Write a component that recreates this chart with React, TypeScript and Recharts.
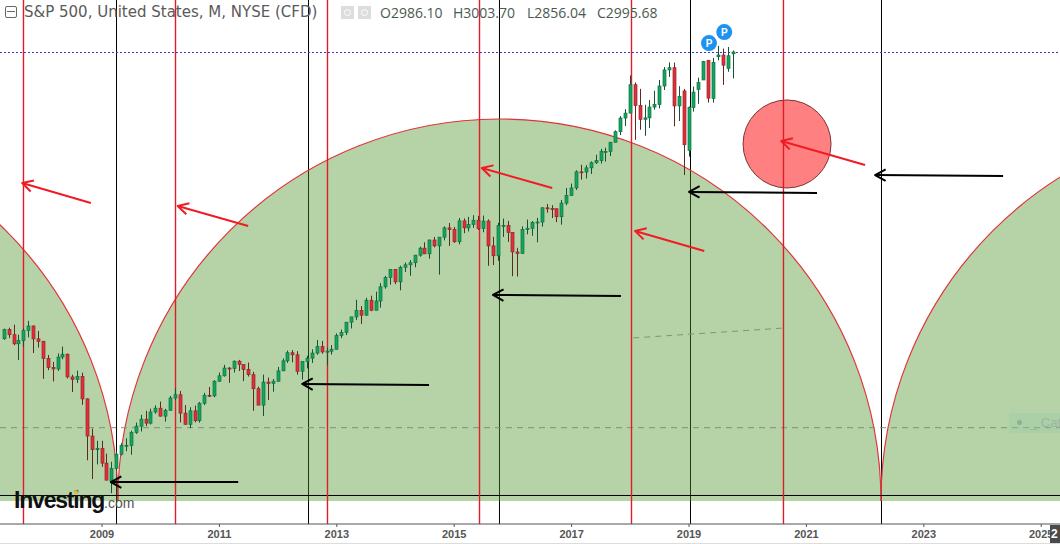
import { Bar, ComposedChart, ReferenceArea, ReferenceDot, ReferenceLine, XAxis, YAxis } from 'recharts';

// monthly candles, first one is May 2007, last one Oct 2019
const startYear = 2007 + 4 / 12;

const opens = [
  1482, 1530, 1503, 1455, 1473, 1526, 1549, 1481, 1468, 1378, 1330, 1322, 1385, 1400, 1280, 1267, 1282, 1164, 968, 896,
  903, 825, 729, 797, 872, 919, 919, 987, 1020, 1057, 1036, 1095,
  1115, 1073, 1104, 1169, 1186, 1089, 1030, 1101, 1049, 1141, 1183, 1180,
  1257, 1286, 1327, 1325, 1363, 1345, 1320, 1292, 1218, 1131, 1253, 1246,
  1257, 1312, 1365, 1408, 1397, 1310, 1362, 1379, 1406, 1440, 1412, 1416,
  1426, 1498, 1514, 1569, 1597, 1631, 1606, 1685, 1632, 1681, 1756, 1805,
  1848, 1782, 1859, 1872, 1883, 1923, 1960, 1930, 2003, 1972, 2018, 2067,
  2058, 1994, 2104, 2067, 2085, 2107, 2063, 2103, 1972, 1920, 2079, 2080,
  2043, 1940, 1932, 2059, 2065, 2096, 2098, 2173, 2170, 2168, 2126, 2198,
  2238, 2278, 2363, 2362, 2384, 2411, 2423, 2470, 2471, 2519, 2575, 2647,
  2673, 2823, 2713, 2640, 2648, 2705, 2718, 2816, 2901, 2913, 2711, 2790,
  2476, 2702, 2798, 2848, 2952, 2751, 2971, 2980, 2909, 2986.1,
];
const highs = [
  1535, 1540, 1556, 1503, 1538, 1576, 1552, 1523, 1471, 1396, 1359, 1404, 1440, 1404, 1292, 1313, 1303, 1167, 1007, 943,
  943, 875, 832, 888, 930, 956, 996, 1039, 1080, 1101, 1113, 1130,
  1150, 1112, 1180, 1220, 1206, 1131, 1120, 1129, 1148, 1196, 1227, 1263,
  1303, 1344, 1332, 1367, 1370, 1345, 1356, 1307, 1229, 1292, 1277, 1269,
  1333, 1378, 1419, 1422, 1416, 1363, 1392, 1426, 1475, 1470, 1434, 1448,
  1510, 1530, 1570, 1597, 1687, 1654, 1698, 1709, 1730, 1775, 1814, 1849,
  1850, 1867, 1884, 1897, 1924, 1968, 1991, 2005, 2019, 2019, 2075, 2093,
  2072, 2119, 2117, 2125, 2134, 2130, 2132, 2112, 2020, 2094, 2116, 2104,
  2043, 1962, 2075, 2111, 2103, 2120, 2177, 2193, 2187, 2169, 2214, 2278,
  2301, 2371, 2400, 2398, 2418, 2453, 2484, 2490, 2519, 2582, 2657, 2694,
  2872, 2835, 2801, 2717, 2742, 2791, 2848, 2916, 2941, 2940, 2815, 2800,
  2708, 2813, 2860, 2949, 2954, 2964, 3028, 3014, 3022, 3003.7,
];
const lows = [
  1476, 1485, 1447, 1370, 1439, 1489, 1406, 1435, 1270, 1316, 1256, 1312, 1373, 1272, 1200, 1248, 1133, 840, 741, 818,
  805, 735, 666, 783, 866, 888, 869, 979, 992, 1020, 1029, 1086,
  1071, 1044, 1101, 1157, 1040, 1028, 1010, 1040, 1039, 1131, 1174, 1173,
  1257, 1282, 1249, 1303, 1311, 1258, 1282, 1101, 1136, 1074, 1158, 1202,
  1257, 1312, 1354, 1357, 1292, 1266, 1325, 1354, 1397, 1403, 1343, 1398,
  1426, 1485, 1501, 1536, 1581, 1560, 1604, 1627, 1633, 1646, 1746, 1767,
  1770, 1737, 1834, 1814, 1859, 1915, 1930, 1904, 1964, 1820, 2001, 1972,
  1988, 1980, 2039, 2048, 2067, 2056, 2044, 1867, 1871, 1893, 2019, 1993,
  1812, 1810, 1932, 2033, 2025, 1991, 2074, 2147, 2119, 2097, 2084, 2187,
  2238, 2267, 2322, 2328, 2352, 2405, 2407, 2417, 2446, 2519, 2557, 2605,
  2673, 2532, 2585, 2553, 2594, 2691, 2698, 2795, 2864, 2603, 2631, 2346,
  2443, 2681, 2722, 2848, 2729, 2728, 2952, 2822, 2891, 2856.04,
];
const closes = [
  1530, 1503, 1455, 1473, 1526, 1549, 1481, 1468, 1378, 1330, 1322, 1385, 1400, 1280, 1267, 1282, 1164, 968, 896, 903,
  825, 735, 797, 872, 919, 919, 987, 1020, 1057, 1036, 1095, 1115,
  1073, 1104, 1169, 1186, 1089, 1030, 1101, 1049, 1141, 1183, 1180, 1257,
  1286, 1327, 1325, 1363, 1345, 1320, 1292, 1218, 1131, 1253, 1246, 1257,
  1312, 1365, 1408, 1397, 1310, 1362, 1379, 1406, 1440, 1412, 1416, 1426,
  1498, 1514, 1569, 1597, 1631, 1606, 1685, 1632, 1681, 1756, 1805, 1848,
  1782, 1859, 1872, 1883, 1923, 1960, 1930, 2003, 1972, 2018, 2067, 2058,
  1994, 2104, 2067, 2085, 2107, 2063, 2103, 1972, 1920, 2079, 2080, 2043,
  1940, 1932, 2059, 2065, 2096, 2098, 2173, 2170, 2168, 2126, 2198, 2238,
  2278, 2363, 2362, 2384, 2411, 2423, 2470, 2471, 2519, 2575, 2647, 2673,
  2823, 2713, 2640, 2648, 2705, 2718, 2816, 2901, 2913, 2711, 2760, 2506,
  2704, 2784, 2834, 2945, 2752, 2941, 2980, 2926, 2976, 2995.68,
];

const yearTicks = [2009, 2011, 2013, 2015, 2017, 2019, 2021, 2023, 2025];
const xDomain = [2007.262, 2025.32];
const yDomain = [503.5, 3270.24];

const redLines = [2007.662, 2010.252, 2012.841, 2015.431, 2018.02, 2020.609];
const blackLines = [2009.247, 2012.518, 2015.771, 2019.025, 2022.279];

const lastPrice = 2993;
const supportPrice = 654;
const midPrice = 1012;

// [left year, right year] of each half circle, they share the same top and base price
const arcSpans = [[1996.27, 2009.27], [2009.27, 2022.27], [2022.27, 2035.27]];
const arcBase = 625;
const arcTop = 2642;

// [tip year, tip price, tail year, tail price]
const redArrows = [
  [2007.64, 2304, 2008.81, 2198],
  [2010.29, 2183, 2011.49, 2077],
  [2015.47, 2383, 2016.67, 2278],
  [2018.08, 2051, 2019.26, 1945],
  [2020.57, 2526, 2022.0, 2399],
];
const blackArrows = [
  [2009.15, 725, 2011.32, 725],
  [2012.41, 1243, 2014.57, 1238],
  [2015.66, 1713, 2017.84, 1707],
  [2019.0, 2257, 2021.18, 2251],
  [2022.17, 2346, 2024.35, 2341],
];

const trendLine = [2018.05, 1486, 2020.6, 1538];
const circle = [2020.67, 2510];
const pivots = [[2019.34, 3043], [2019.6, 3101]];

const ohlcLabels = ['O2986.10', 'H3003.70', 'L2856.04', 'C2995.68'];

const candles = closes.map((close, i) => ({
  year: startYear + i / 12,
  open: opens[i],
  high: highs[i],
  low: lows[i],
  close,
  range: [lows[i], highs[i]],
}));

function Candle(props: any) {
  const { x, y, width, height, payload } = props;
  const { open, high, low, close } = payload;
  const cx = Math.round(x + width / 2) + 0.5;
  const k = height / (high - low);
  const top = y + (high - Math.max(open, close)) * k;
  const h = Math.max(Math.abs(open - close) * k, 1);
  const up = close >= open;
  return (
    <g>
      <line x1={cx} x2={cx} y1={y} y2={y + height} stroke={up ? '#14503a' : '#5c2a22'} strokeWidth={1} />
      <rect
        x={cx - 1.5}
        y={top}
        width={3}
        height={h}
        fill={up ? '#10a85e' : '#ea2c3a'}
        stroke={up ? '#14703f' : '#8a2a28'}
        strokeWidth={0.7}
      />
    </g>
  );
}

function HalfCircle(props: any) {
  const { x, y, width, height } = props;
  const rx = width / 2;
  const arc = `M${x},${y + height}A${rx},${height} 0 0 1 ${x + width},${y + height}`;
  return (
    <g>
      <path d={arc + 'Z'} fill="rgb(70,145,35)" fillOpacity={0.4} stroke="none" />
      <path d={arc} fill="none" stroke="#e0343c" strokeWidth={1.2} />
    </g>
  );
}

// draws the line plus a small open head at the first point
function Arrow(props: any) {
  const { x1, y1, x2, y2, stroke } = props;
  const a = Math.atan2(y2 - y1, x2 - x1);
  const len = 12;
  const p = (d: number) => `${x1 + Math.cos(a + d) * len},${y1 + Math.sin(a + d) * len}`;
  return (
    <g fill="none" stroke={stroke} strokeWidth={2} strokeLinejoin="round">
      <line x1={x1} y1={y1} x2={x2} y2={y2} />
      <path d={`M${p(0.5)}L${x1},${y1}L${p(-0.5)}`} />
    </g>
  );
}

function Pivot(props: any) {
  const { cx, cy } = props;
  return (
    <g>
      <circle cx={cx} cy={cy} r={8} fill="#1d92f0" />
      <text x={cx} y={cy + 3.5} textAnchor="middle" fontSize={10} fontWeight={700} fontFamily="Liberation Sans" fill="#fff">
        P
      </text>
    </g>
  );
}

const headerFont = '"DejaVu Sans", sans-serif';
const ohlcLeft = [380, 453, 527, 597];

export default function App() {
  return (
    <div style={{ position: 'absolute', left: 0, top: 0, width: 1060, height: 544, overflow: 'hidden', background: '#fff' }}>
      <ComposedChart width={1060} height={544} data={candles} margin={{ top: 0, right: 0, bottom: 0, left: 0 }}>
        <XAxis
          dataKey="year"
          type="number"
          domain={xDomain}
          allowDataOverflow
          ticks={yearTicks}
          height={20}
          interval={0}
          stroke="#555"
          tickSize={3}
          tickMargin={3}
          tick={{ fontSize: 11, fontWeight: 700, fontFamily: 'Liberation Sans', fill: '#555' }}
        />
        <YAxis hide domain={yDomain} allowDataOverflow />

        {blackLines.map(x => (
          <ReferenceLine key={x} x={x} stroke="#000" strokeWidth={1} zIndex={90} />
        ))}
        {arcSpans.map(s => (
          <ReferenceArea key={s[0]} x1={s[0]} x2={s[1]} y1={arcBase} y2={arcTop} ifOverflow="visible" shape={HalfCircle} zIndex={100} />
        ))}
        <ReferenceLine y={supportPrice} stroke="#000" strokeWidth={1} zIndex={150} />
        <ReferenceLine y={midPrice} stroke="#7f8f7a" strokeWidth={1} strokeDasharray="6 5" zIndex={150} />
        <ReferenceLine y={lastPrice} stroke="#3a3ac8" strokeWidth={1} strokeDasharray="2 2" zIndex={150} />
        <ReferenceLine
          segment={[{ x: trendLine[0], y: trendLine[1] }, { x: trendLine[2], y: trendLine[3] }]}
          stroke="#7f9479"
          strokeWidth={1}
          strokeDasharray="6 5"
          zIndex={150}
        />
        <ReferenceDot x={circle[0]} y={circle[1]} r={44} fill="#ff8080" stroke="#7c3434" strokeWidth={1} zIndex={160} />
        {redLines.map(x => (
          <ReferenceLine key={x} x={x} stroke="#e01c28" strokeWidth={1.4} zIndex={170} />
        ))}

        <Bar dataKey="range" barSize={4} isAnimationActive={false} shape={Candle} zIndex={300} />

        {redArrows.map(a => (
          <ReferenceLine
            key={a[0]}
            segment={[{ x: a[0], y: a[1] }, { x: a[2], y: a[3] }]}
            stroke="#f01c24"
            shape={Arrow}
            zIndex={400}
          />
        ))}
        {blackArrows.map(a => (
          <ReferenceLine
            key={a[0]}
            segment={[{ x: a[0], y: a[1] }, { x: a[2], y: a[3] }]}
            stroke="#000"
            shape={Arrow}
            zIndex={400}
          />
        ))}
        {pivots.map(p => (
          <ReferenceDot key={p[0]} x={p[0]} y={p[1]} r={8} shape={Pivot} zIndex={600} />
        ))}
      </ComposedChart>

      {/* header */}
      <div style={{ position: 'absolute', left: 5, top: 6, width: 10, height: 10, border: '1px solid #666', borderRadius: 2 }}>
        <div style={{ position: 'absolute', left: 1, right: 1, top: 4, height: 1, background: '#666' }} />
      </div>
      <div style={{ position: 'absolute', left: 24, top: 3, font: `15px ${headerFont}`, color: '#5a5a5a', whiteSpace: 'nowrap' }}>
        S&amp;P 500, United States, M, NYSE (CFD)
      </div>
      <div style={{ position: 'absolute', left: 341, top: 6, width: 13, height: 13, background: '#ddd' }}>
        <div style={{ position: 'absolute', left: 3, top: 3, width: 5, height: 5, borderRadius: 4, border: '1px solid #fff' }} />
      </div>
      <div style={{ position: 'absolute', left: 358, top: 6, width: 13, height: 13, background: '#ddd' }}>
        <div style={{ position: 'absolute', left: 3, top: 3, width: 5, height: 5, borderRadius: 4, border: '1px solid #fff' }} />
      </div>
      {ohlcLabels.map((label, i) => (
        <div key={label} style={{ position: 'absolute', left: ohlcLeft[i], top: 3, font: '14px "Open Sans"', color: '#4a5a50', whiteSpace: 'pre' }}>
          {label}
        </div>
      ))}

      {/* watermark */}
      <div style={{ position: 'absolute', left: 14, top: 487, font: '700 23px "Liberation Sans"', letterSpacing: -1.2, color: '#111' }}>
        Investing
      </div>
      <div style={{ position: 'absolute', left: 104, top: 495, font: '14px "Liberation Sans"', color: '#555' }}>.com</div>
      <div style={{ position: 'absolute', left: 74, top: 490, width: 4, height: 4, borderRadius: 2, background: '#f0b429' }} />

      {/* faint label on the right edge */}
      <div style={{ position: 'absolute', left: 1009, top: 413, width: 51, height: 20, background: 'rgba(150,200,170,0.3)', overflow: 'hidden' }}>
        <div style={{ position: 'absolute', left: 8, top: 7, width: 5, height: 5, borderRadius: 3, background: '#8fae93' }} />
        <div style={{ position: 'absolute', left: 21, top: 2, font: '13px "Liberation Sans"', color: '#9db59f', whiteSpace: 'pre' }}>_ Cat</div>
      </div>

      {/* time scale cursor label */}
      <div style={{ position: 'absolute', left: 1050, top: 525, width: 10, height: 18, background: '#4a4a4a', overflow: 'hidden', font: '700 12px "Liberation Sans"', color: '#fff', lineHeight: '18px', paddingLeft: 1, boxSizing: 'border-box' }}>
        2
      </div>
      <div style={{ position: 'absolute', left: 0, top: 543, width: 1060, height: 1, background: '#ddd' }} />
    </div>
  );
}
